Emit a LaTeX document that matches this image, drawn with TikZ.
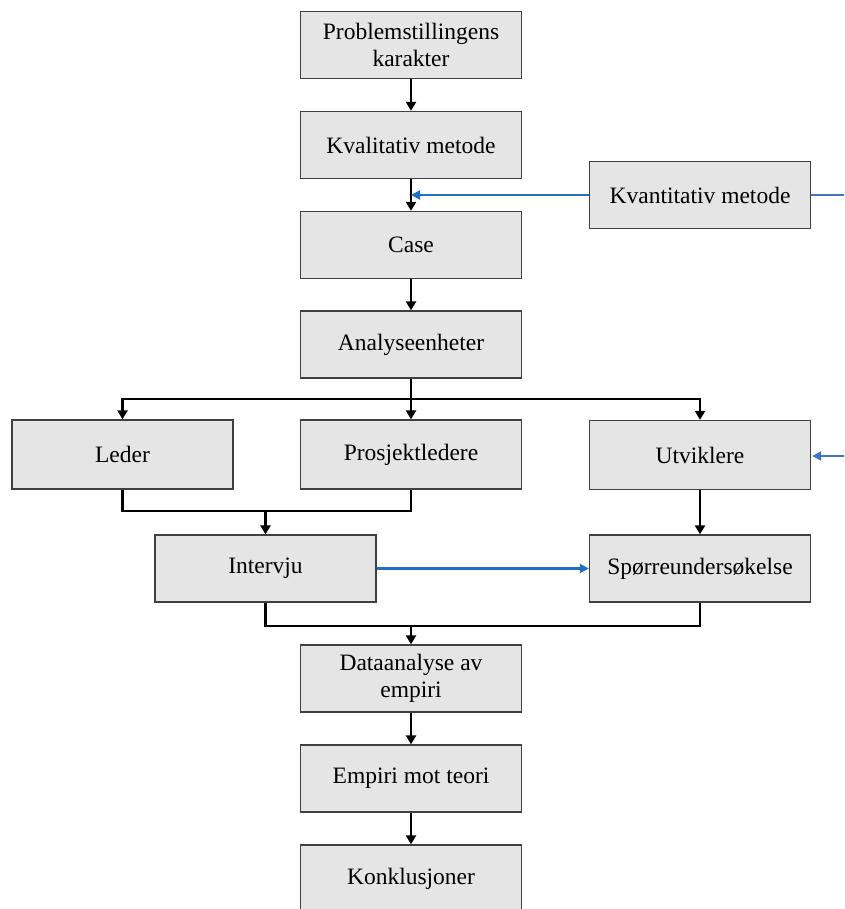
\documentclass[tikz,border=0pt]{standalone}
\usepackage{fontspec}
\setmainfont{Liberation Serif}
\usetikzlibrary{arrows.meta}
\definecolor{flowblue}{HTML}{1F70C1}
\definecolor{sideblue}{HTML}{4472C4}
\tikzset{
  box/.style={draw=black!75, line width=1.3pt, fill=black!10, minimum width=221pt,
    minimum height=67pt, inner sep=2pt, align=center, font=\fontsize{23.5}{27}\selectfont},
  flow/.style={line width=2.6pt, draw=black, -{Triangle[length=9pt,width=10pt]}},
  link/.style={line width=2.6pt, draw=black},
  blueflow/.style={line width=2.4pt, draw=flowblue, -{Triangle[length=9pt,width=9pt]}},
  blueline/.style={line width=2.4pt, draw=sideblue},
  sideflow/.style={line width=2.4pt, draw=sideblue, -{Triangle[length=9pt,width=9pt]}}
}
\begin{document}
\begin{tikzpicture}[x=1pt,y=-1pt]
\useasboundingbox (0,0) rectangle (844,909);
\clip (0,0) rectangle (844,909);
\fill[white] (0,0) rectangle (844,909);

% boxes
\node[box] (prob)   at (411,45)    {Problemstillingens\\karakter};
\node[box] (kval)   at (411,145)   {Kvalitativ metode};
\node[box] (kvant)  at (700,195)   {Kvantitativ metode};
\node[box] (case)   at (411,245)   {Case};
\node[box] (anal)   at (411,344.5) {Analyseenheter};
\node[box, minimum height=69pt] (leder) at (122.5,454.5) {Leder};
\node[box, minimum height=69pt] (prosj) at (411,454.5)   {Prosjektledere};
\node[box, minimum height=69pt] (utv)   at (700,455)     {Utviklere};
\node[box] (interv) at (265.5,568.5) {Intervju};
\node[box] (spor)   at (700,568.5)   {Spørreundersøkelse};
\node[box] (data)   at (411,678.5)   {Dataanalyse av\\empiri};
\node[box] (emp)    at (411,778.5)   {Empiri mot teori};
\node[box] (konk)   at (411,878.5)   {Konklusjoner};

% junction points
\coordinate (split) at (411,399);
\coordinate (merge1) at (265.5,511);
\coordinate (merge2) at (411,626);
\coordinate (kvj) at (kval.south |- kvant.west);
\coordinate (rtop) at (875,195);
\coordinate (rbot) at (875,456);

% main flow
\draw[flow] (prob) -- (kval);
\draw[flow] (kval) -- (case);
\draw[flow] (case) -- (anal);
\draw[link] (anal.south) -- (split);
\draw[flow] (split) -| (leder.north);
\draw[flow] (split) -- (prosj.north);
\draw[flow] (split) -| (utv.north);
\draw[link] (leder.south) |- (merge1) -| (prosj.south);
\draw[flow] (merge1) -- (interv.north);
\draw[flow] (utv) -- (spor);
\draw[link] (interv.south) |- (merge2) -| (spor.south);
\draw[flow] (merge2) -- (data.north);
\draw[flow] (data) -- (emp);
\draw[flow] (emp) -- (konk);

% quantitative branch
\draw[blueflow] (kvant.west) -- (kvj);
\draw[blueflow] (interv.east) -- (spor.west);
\draw[blueline] (kvant.east) -- (rtop) -- (rbot);
\draw[sideflow] (rbot) -- ([xshift=1pt]utv.east |- rbot);
\end{tikzpicture}
\end{document}
